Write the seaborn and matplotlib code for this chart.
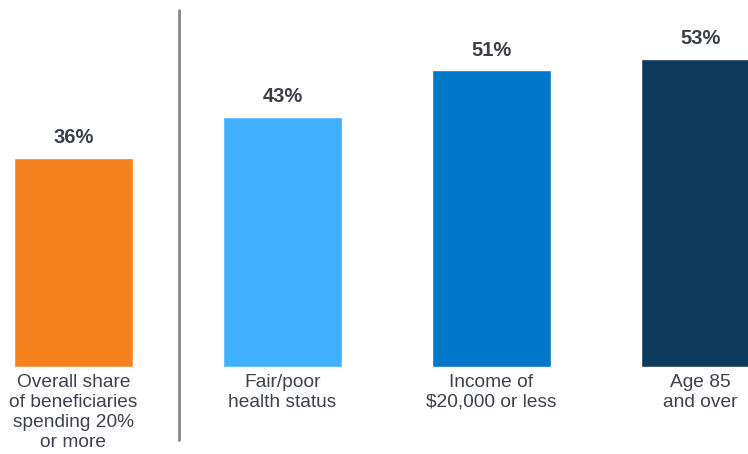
import matplotlib
matplotlib.use("Agg")
import matplotlib.pyplot as plt
import seaborn as sns
import pandas as pd
from matplotlib.lines import Line2D

# data
categories = ["Overall share\nof beneficiaries\nspending 20%\nor more",
              "Fair/poor\nhealth status",
              "Income of\n$20,000 or less",
              "Age 85\nand over"]
values = [36, 43, 51, 53]
colors = ["#F5821F", "#41B0FF", "#0077C8", "#0E3A5E"]

sns.set_style("white")
plt.rcParams['font.family'] = ['Liberation Sans', 'DejaVu Sans']

df = pd.DataFrame({"cat": categories, "val": values})

W, H = 748, 454
fig = plt.figure(figsize=(W / 100, H / 100), dpi=100)
ax = fig.add_axes([0, (H - 367) / H, 1, 367 / H])

sns.barplot(data=df, x="cat", y="val", hue="cat", palette=colors,
            width=0.57, legend=False, saturation=1, ax=ax)

ax.set_xlim(-73.5 / 209, (748 - 73.5) / 209)
ax.set_ylim(0, 63.1)
ax.set_xlabel("")
ax.set_ylabel("")
ax.set_yticks([])
sns.despine(ax=ax, left=True, bottom=True, top=True, right=True)
ax.tick_params(axis="x", length=0, pad=5, labelsize=13.8, labelcolor="#3c4150")
for lab in ax.get_xticklabels():
    lab.set_linespacing(1.22)

for i, v in enumerate(values):
    ax.text(i, v + 1.8, f"{v}%", ha="center", va="bottom",
            fontsize=14.5, fontweight="bold", color="#3a3f4a")

# divider line
fig.add_artist(Line2D([179 / W, 179 / W], [1 - 10 / H, 1 - 440 / H],
                      color="#888888", linewidth=2, transform=fig.transFigure))

fig.savefig("out.png", dpi=100)
